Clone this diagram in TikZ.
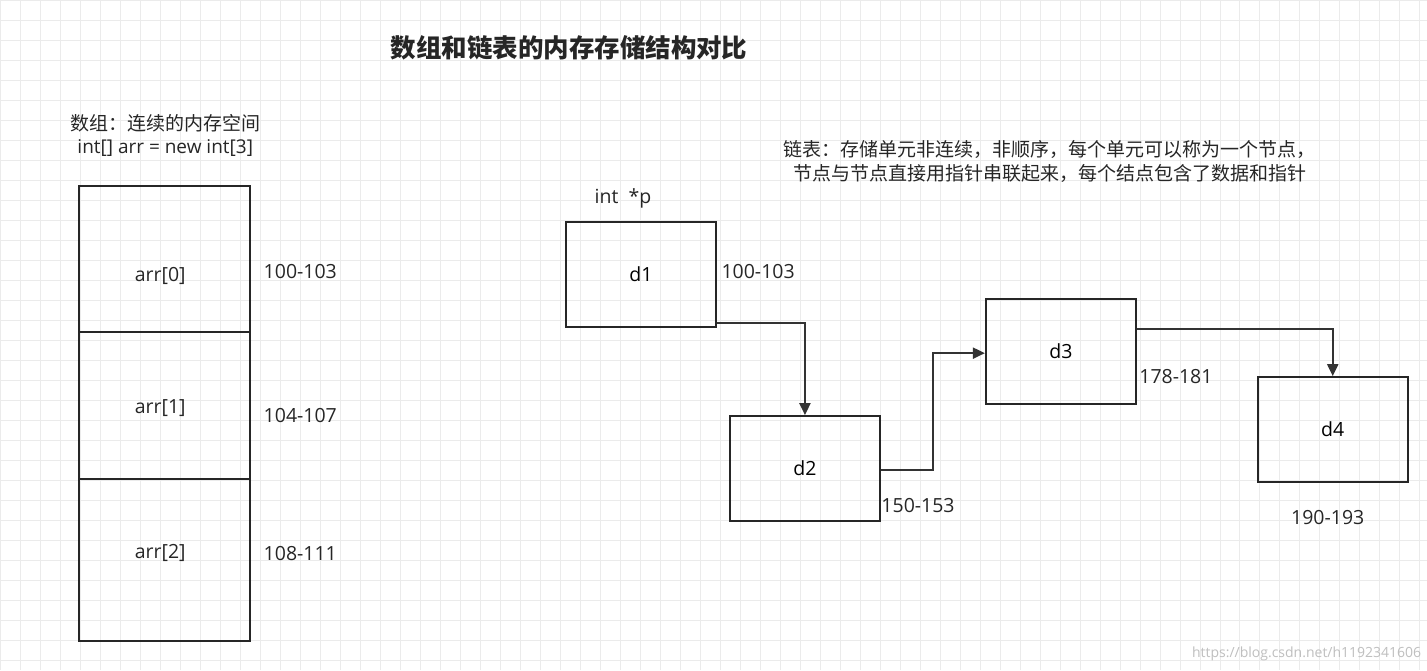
\documentclass[tikz,border=0pt]{standalone}
\usepackage{fontspec}
\setmainfont{Open Sans}
\newfontfamily\cjk{Noto Sans CJK SC}
\usetikzlibrary{arrows.meta}
\begin{document}
\begin{tikzpicture}[x=1pt,y=-1pt,
  cell/.style={draw=black!85,line width=2pt,minimum width=171pt,inner sep=0pt},
  nd/.style={draw=black!85,line width=2pt,minimum width=150pt,minimum height=105pt,inner sep=0pt,font=\fontsize{19.5}{22}\selectfont},
  lbl/.style={font=\fontsize{19.5}{22}\selectfont,text=black!85},
  conn/.style={line width=2pt,draw=black!80,-{Triangle[length=12pt,width=11pt]}}]
\fill[white] (0,0) rectangle (1427,670);
\foreach \i in {0,20,...,1420} \draw[black!8,line width=0.6pt] (\i,0) -- (\i,670);
\foreach \j in {0,20,...,660} \draw[black!8,line width=0.6pt] (0,\j) -- (1427,\j);
\useasboundingbox (0,0) rectangle (1427,670);
\node[lbl,font=\cjk\bfseries\fontsize{25.5}{30}\selectfont] (t) at (569,48) {数组和链表的内存存储结构对比};
\node[lbl,align=center,font=\fontsize{19}{23}\selectfont] (h1) at (165,135) {{\cjk 数组：连续的内存空间}\\int[] arr = new int[3]};
\node[cell,minimum height=146pt] (a0) at (164.5,259) {};
\node[cell,minimum height=147pt] (a1) at (164.5,405.5) {};
\node[cell,minimum height=162pt] (a2) at (164.5,560) {};
\node[lbl] (a0t) at (160,276) {arr[0]};
\node[lbl] (a1t) at (160,408) {arr[1]};
\node[lbl] (a2t) at (160,553) {arr[2]};
\node[lbl,anchor=west] (m0) at (260,271) {100-103};
\node[lbl,anchor=west] (m1) at (260,415) {104-107};
\node[lbl,anchor=west] (m2) at (260,553) {108-111};
\node[lbl,align=center,font=\cjk\fontsize{19}{24}\selectfont] (h2) at (1050,161) {链表：存储单元非连续，非顺序，每个单元可以称为一个节点，\\节点与节点直接用指针串联起来，每个结点包含了数据和指针};
\node[lbl] (p) at (623,198) {int\ \ *p};
\node[nd] (d1) at (641,274) {d1};
\node[nd] (d2) at (805,468.5) {d2};
\node[nd] (d3) at (1061,351.5) {d3};
\node[nd] (d4) at (1333,429.5) {d4};
\node[lbl,anchor=west] (l1) at (718,271) {100-103};
\node[lbl,anchor=west] (l2) at (878,505) {150-153};
\node[lbl,anchor=west] (l3) at (1136,376) {178-181};
\node[lbl] (l4) at (1328,517) {190-193};
\draw[conn] (d1.east |- 0,323) -| (d2.north);
\draw[conn] (d2.east |- 0,470) -- (933,470) |- (d3.west |- 0,353);
\draw[conn] (d3.east |- 0,329) -| (d4.north);
\node[font=\fontsize{14}{16}\selectfont,text=black!25,anchor=east] (wm) at (1425,654) {https://blog.csdn.net/h1192341606};
\end{tikzpicture}
\end{document}
